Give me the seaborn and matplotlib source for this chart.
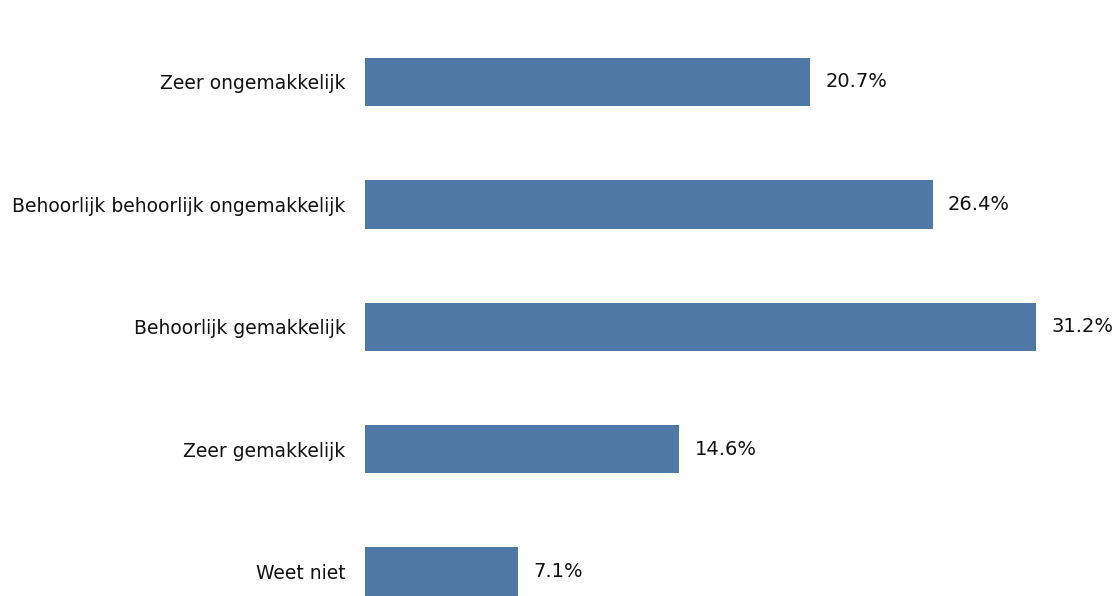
import matplotlib
matplotlib.use("Agg")
import matplotlib.pyplot as plt
import seaborn as sns
import pandas as pd

categories = ["Zeer ongemakkelijk", "Behoorlijk behoorlijk ongemakkelijk",
              "Behoorlijk gemakkelijk", "Zeer gemakkelijk", "Weet niet"]
values = [20.7, 26.4, 31.2, 14.6, 7.1]
value_labels = ["20.7%", "26.4%", "31.2%", "14.6%", "7.1%"]

df = pd.DataFrame({"cat": categories, "val": values})

sns.set_style("white")
plt.rcParams['font.family'] = ['DejaVu Sans']

fig = plt.figure(figsize=(11.16, 5.96), dpi=100)
ax = fig.add_axes([365 / 1116, 0, 1 - 365 / 1116, 1])
sns.barplot(data=df, x="val", y="cat", order=categories, color="#4e79a7",
            saturation=1, width=0.395, ax=ax, orient="h", linewidth=0)

ax.set_xlim(0, (1116 - 365) / 21.5)
ax.set_ylim(4.2, -0.67)
for i, (v, lab) in enumerate(zip(values, value_labels)):
    ax.text(v + 0.72, i, lab, va="center", ha="left", fontsize=14, color="#111111")

ax.set_xlabel("")
ax.set_ylabel("")
ax.set_xticks([])
ax.tick_params(axis="y", length=0, pad=14, labelsize=13.5, labelcolor="#111111")
for s in ax.spines.values():
    s.set_visible(False)

fig.savefig("out.png", dpi=100)
